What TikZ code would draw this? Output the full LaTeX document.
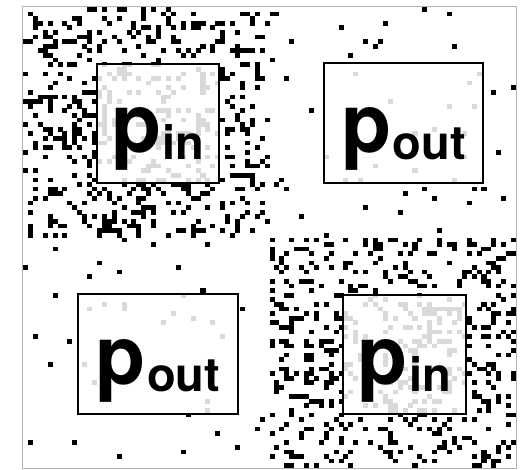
\documentclass[tikz,border=0pt]{standalone}
\usepackage{fontspec}
\setmainfont{TeX Gyre Heros}

\tikzset{
  pbox/.style={draw, line width=2.6pt, fill=white, fill opacity=0.85,
    text opacity=1, inner sep=0pt},
  plabel/.style={inner sep=0pt, anchor=base,
    font=\bfseries\fontsize{82}{82}\selectfont}
}
\newcommand{\psub}[1]{p\kern1.5pt\raisebox{-7pt}{\fontsize{47}{47}\selectfont #1}}

\begin{document}
\begin{tikzpicture}[x=1pt,y=-1pt]
  % Canvas, same size as the reference.
  \useasboundingbox (0,0) rectangle (529,470);
  % Cell size of the 100 x 100 grid.
  \pgfmathsetmacro{\cw}{4.93}
  \pgfmathsetmacro{\ch}{4.61}
  \pgfmathsetseed{4217}
  % Random pixels: dense in the top-left and bottom-right quadrants.
  \foreach \i in {0,...,99}{
    \foreach \j in {0,...,99}{
      \pgfmathsetmacro{\dens}{((\i<50)==(\j<50)) ? 0.22 : 0.016}
      \pgfmathsetmacro{\r}{rnd}
      \ifdim\r pt<\dens pt
        \fill (23+\i*\cw,7+\j*\ch) rectangle ++(\cw+0.1,\ch+0.1);
      \fi
    }
  }
  % Frame of the field.
  \draw[gray!60, line width=0.8pt] (22.5,6.7) rectangle (516,468.5);
  % Boxes; the pixels under them show through as light gray.
  \node[pbox, minimum width=122pt, minimum height=119pt] (boxTL) at (158,123.5) {};
  \node[pbox, minimum width=159pt, minimum height=120pt] (boxTR) at (403.5,123) {};
  \node[pbox, minimum width=160pt, minimum height=120pt] (boxBL) at (158,354) {};
  \node[pbox, minimum width=123pt, minimum height=119pt] (boxBR) at (404.5,354.5) {};
  % Labels, set on a common baseline inside each box.
  \node[plabel] (labTL) at ([yshift=-29.5pt]boxTL.center) {\psub{in}};
  \node[plabel] (labTR) at ([yshift=-30pt]boxTR.center) {\psub{out}};
  \node[plabel] (labBL) at ([yshift=-30pt]boxBL.center) {\psub{out}};
  \node[plabel] (labBR) at ([yshift=-30pt]boxBR.center) {\psub{in}};
\end{tikzpicture}
\end{document}
